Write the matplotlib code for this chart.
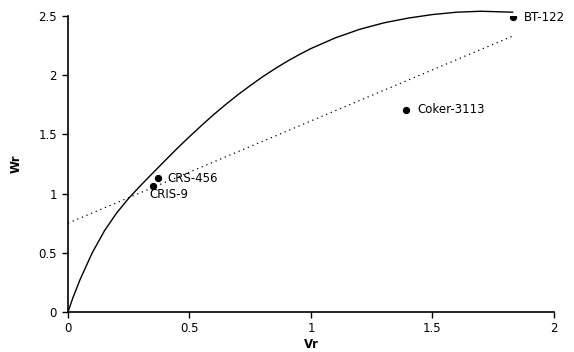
import matplotlib
matplotlib.use("Agg")
import matplotlib.pyplot as plt

plt.rcParams['font.family'] = ['DejaVu Sans']

# parents (Vr, Wr)
names = ["CRIS-9", "CRS-456", "Coker-3113", "BT-122"]
vr = [0.35, 0.37, 1.39, 1.83]
wr = [1.065, 1.13, 1.71, 2.49]

# limiting curve
curve_x = [0, 0.02, 0.05, 0.10, 0.15, 0.20, 0.25, 0.30, 0.35, 0.40, 0.45, 0.50,
           0.55, 0.60, 0.65, 0.70, 0.75, 0.80, 0.85, 0.90, 0.95, 1.00, 1.10,
           1.20, 1.30, 1.40, 1.50, 1.60, 1.70, 1.83]
curve_y = [0, 0.12, 0.276, 0.501, 0.686, 0.836, 0.961, 1.071, 1.176, 1.28, 1.383, 1.481,
           1.576, 1.668, 1.754, 1.836, 1.912, 1.985, 2.052, 2.115, 2.172, 2.225, 2.315,
           2.387, 2.442, 2.482, 2.512, 2.532, 2.54, 2.532]

# regression line ends
reg_x = [0, 1.83]
reg_y = [0.75, 2.33]

fig = plt.figure(figsize=(5.74, 3.52), dpi=100)
ax = fig.add_axes([0.1185, 0.1136, 0.8465, 0.841])

ax.plot(curve_x, curve_y, color="black", lw=1.0, clip_on=False)
ax.plot(reg_x, reg_y, color="black", lw=0.9, linestyle=(0, (1, 3)))
ax.scatter(vr, wr, s=18, color="black", zorder=3)

offsets = {"CRIS-9": (-3, -6), "CRS-456": (7, 0),
           "Coker-3113": (8.5, 0), "BT-122": (8, 0)}
for n, x, y in zip(names, vr, wr):
    dx, dy = offsets[n]
    ax.annotate(n, (x, y), xytext=(dx, dy), textcoords="offset points",
                ha="left", va="center", fontsize=8.5)

ax.set_xlim(0, 2)
ax.set_ylim(0, 2.5)
ax.set_xticks([0, 0.5, 1, 1.5, 2])
ax.set_xticklabels(["0", "0.5", "1", "1.5", "2"])
ax.set_yticks([0, 0.5, 1, 1.5, 2, 2.5])
ax.set_yticklabels(["0", "0.5", "1", "1.5", "2", "2.5"])
ax.tick_params(labelsize=8.5, length=4, width=1)
ax.tick_params(axis="y", pad=4)
ax.spines["top"].set_visible(False)
ax.spines["right"].set_visible(False)
ax.spines["left"].set_linewidth(1.2)
ax.spines["bottom"].set_linewidth(1.2)
ax.set_xlabel("Vr", fontsize=8.5, fontweight="bold", labelpad=2)
ax.set_ylabel("Wr", fontsize=8.5, fontweight="bold", labelpad=11)

fig.savefig("out.png", dpi=100)
